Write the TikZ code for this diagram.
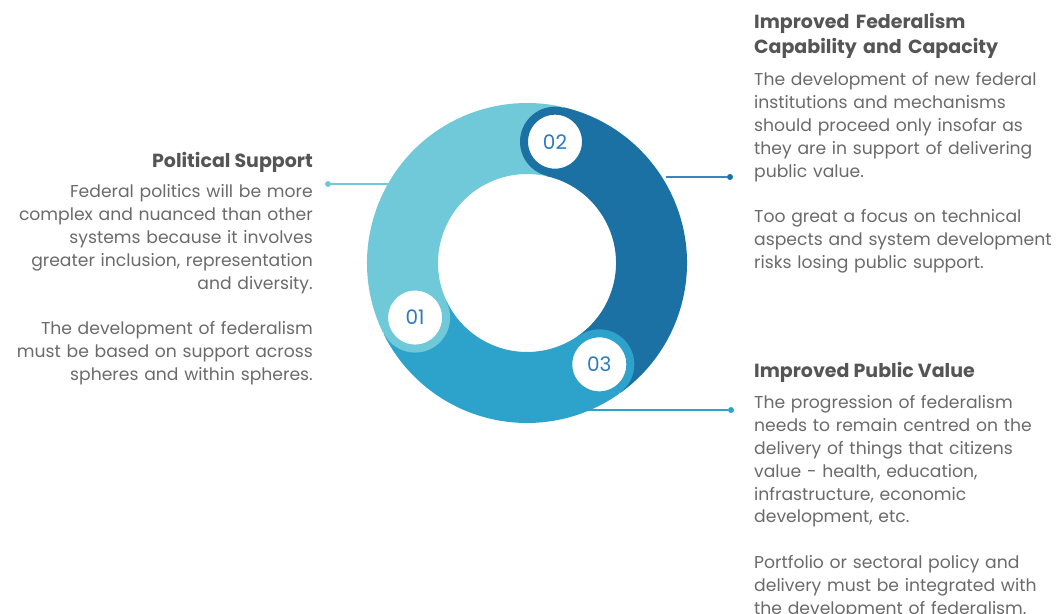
\documentclass[tikz,border=0pt]{standalone}
\usepackage{fontspec}
\setmainfont{Poppins}
\usetikzlibrary{positioning}

\definecolor{ringlight}{HTML}{6FC9D8}
\definecolor{ringmid}{HTML}{2DA3CB}
\definecolor{ringdark}{HTML}{1B71A3}
\definecolor{linkdark}{HTML}{3F84B6}
\definecolor{numblue}{HTML}{2A7BC2}
\definecolor{headgray}{HTML}{555555}
\definecolor{bodygray}{HTML}{6A6A6A}

\begin{document}
\begin{tikzpicture}[
        x=1pt, y=1pt,
        band/.style={line width=71pt},
        badge/.style={circle, fill=white, line width=8pt, minimum size=62pt, inner sep=0pt, text=numblue, font=\fontsize{20}{20}\selectfont},
        head/.style={font=\fontsize{19}{25}\selectfont\bfseries, text=headgray, inner sep=0pt},
        body/.style={font=\fontsize{17.2}{22.8}\selectfont, text=bodygray, inner sep=0pt},
        link/.style={line width=1.6pt},
        dot/.style={circle, inner sep=0pt, minimum size=6pt}
    ]
    \useasboundingbox (0,0) rectangle (1062,613);

    % Ring outline (for anchors)
    \node[circle, minimum size=320pt, inner sep=0pt] (ring) at (527,350) {};

    % Dots and links
    \node[dot, fill=ringlight] (dotL) at (328,429) {};
    \node[dot, fill=ringdark] (dotR) at (730,436) {};
    \node[dot, fill=ringmid] (dotB) at (731,203) {};
    \draw[link, ringlight] (dotL) -- (ring.150 |- dotL);
    \draw[link, linkdark] (ring.30 |- dotR) -- (dotR);
    \draw[link, ringmid] (ring.-70 |- dotB) -- (dotB);

    % Ring segments
    \draw[band, ringlight] ([shift={(206:124.5)}]ring.center) arc[start angle=206, end angle=77, radius=124.5];
    \draw[band, ringdark] ([shift={(77:124.5)}]ring.center) arc[start angle=77, end angle=-54.5, radius=124.5];
    \draw[band, ringmid] ([shift={(-54.5:124.5)}]ring.center) arc[start angle=-54.5, end angle=-154, radius=124.5];

    % Badges
    \node[badge, draw=ringlight] (b01) at ([shift={(206:124.5)}]ring.center) {01};
    \node[badge, draw=ringdark] (b02) at ([shift={(77:124.5)}]ring.center) {02};
    \node[badge, draw=ringmid] (b03) at ([shift={(-54.5:124.5)}]ring.center) {03};

    % Political Support
    \node[head, anchor=base east] (psHead) at (313,445) {Political Support};
    \node[body, anchor=base east, text width=320pt, align=right] (psText) at ([yshift=-30pt]psHead.base east)
        {Federal politics will be more\\complex and nuanced than other\\systems because it involves\\greater inclusion, representation\\and diversity.\\[22.8pt]The development of federalism\\must be based on support across\\spheres and within spheres.};

    % Improved Federalism Capability and Capacity
    \node[head, anchor=base west, text width=300pt, align=left] (fcHead) at (754,584)
        {Improved Federalism\\Capability and Capacity};
    \node[body, anchor=base west, text width=310pt, align=left] (fcText) at ([yshift=-57pt]fcHead.base west)
        {The development of new federal\\institutions and mechanisms\\should proceed only insofar as\\they are in support of delivering\\public value.\\[22.8pt]Too great a focus on technical\\aspects and system development\\risks losing public support.};

    % Improved Public Value
    \node[head, anchor=base west] (pvHead) at (754,235) {Improved Public Value};
    \node[body, anchor=base west, text width=310pt, align=left] (pvText) at ([yshift=-31pt]pvHead.base west)
        {The progression of federalism\\needs to remain centred on the\\delivery of things that citizens\\value - health, education,\\infrastructure, economic\\development, etc.\\[22.8pt]Portfolio or sectoral policy and\\delivery must be integrated with\\the development of federalism.};

\end{tikzpicture}
\end{document}
